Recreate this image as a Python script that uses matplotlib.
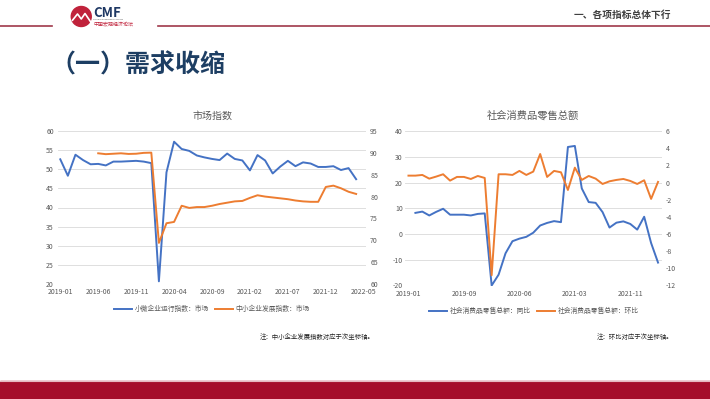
import matplotlib

matplotlib.use("Agg")
import matplotlib.pyplot as plt
import numpy as np
import pandas as pd
from matplotlib.patches import Circle, Rectangle

plt.rcParams["font.family"] = ["Noto Sans CJK SC", "DejaVu Sans"]
plt.rcParams["axes.unicode_minus"] = False

# ---- dati: indici di mercato (mensili 2019-01 .. 2022-05) ----
market_months = [p.strftime("%Y-%m") for p in pd.period_range("2019-01", "2022-05", freq="M")]
market_ticks = market_months[::5]
small_micro_index = [
    52.6, 48.3, 53.8, 52.4, 51.3, 51.4, 51.0, 52.0, 52.0, 52.1,
    52.2, 52.0, 51.6, 20.7, 49.2, 57.2, 55.3, 54.8, 53.6, 53.1,
    52.7, 52.4, 54.1, 52.7, 52.3, 49.7, 53.7, 52.3, 48.9, 50.7,
    52.2, 50.8, 51.8, 51.5, 50.6, 50.6, 50.8, 49.8, 50.3, 47.4,
]
sme_development_index = [np.nan] * 5 + [
    89.9, 89.7, 89.8, 89.9, 89.75, 89.8, 90.0, 90.05,
    69.4, 73.9, 74.2, 77.9, 77.4, 77.6, 77.6, 77.9,
    78.3, 78.6, 78.9, 79.0, 79.7, 80.3, 80.0, 79.8, 79.6, 79.4,
    79.1, 78.9, 78.8, 78.8, 82.2, 82.5, 81.9, 81.1, 80.6,
]

# ---- dati: vendite al dettaglio (gennaio accorpato a febbraio dal 2020) ----
retail_months = [
    p.strftime("%Y-%m") for p in pd.period_range("2019-01", "2022-04", freq="M")
    if not (p.month == 1 and p.year > 2019)
]
retail_ticks = retail_months[::8]
retail_yoy = [np.nan] + [
    8.2, 8.7, 7.2, 8.6, 9.8, 7.5, 7.5, 7.5, 7.2, 7.8, 8.0,
    -20.0, -15.8, -7.5, -2.8, -1.8, -1.1, 0.5, 3.3, 4.3, 5.0, 4.6,
    33.8, 34.2, 17.7, 12.4, 12.1, 8.5, 2.5, 4.4, 4.9, 3.9, 1.7, 6.7, -3.5, -11.1,
]
retail_mom = [
    0.80, 0.80, 0.88, 0.45, 0.69, 0.96, 0.22, 0.65, 0.65, 0.41, 0.76, 0.53,
    -10.8, 0.96, 0.96, 0.88, 1.35, 0.88, 1.27, 3.32, 0.65, 1.35, 1.19,
    -0.87, 1.73, 0.30, 0.76, 0.45, -0.17, 0.14, 0.30, 0.41, 0.18, -0.17, 0.26, -1.91, 0.07,
]

BLUE = "#4472C4"
ORANGE = "#ED7D31"
GRID = "#D9D9D9"
TEXT = "#595959"
W, H = 710, 399


def px_rect(x0, y0, x1, y1):
    """Converte un riquadro in pixel (origine in alto a sinistra) in coordinate figura."""
    return [x0 / W, 1 - y1 / H, (x1 - x0) / W, (y1 - y0) / H]


def style_axes(ax, ax2):
    for a in (ax, ax2):
        for s in a.spines.values():
            s.set_visible(False)
        a.tick_params(length=0, labelsize=5, colors=TEXT, pad=3)
    ax.grid(axis="y", color=GRID, linewidth=0.6)
    ax.set_axisbelow(True)


def main():
    fig = plt.figure(figsize=(W / 100, H / 100), dpi=100)

    # ---- intestazione ----
    fig.add_artist(plt.Line2D([0, 52 / W], [1 - 25.5 / H] * 2, color="#A0384A", lw=1.2))
    fig.add_artist(plt.Line2D([158 / W, 1], [1 - 25.5 / H] * 2, color="#A0384A", lw=1.2))
    logo_ax = fig.add_axes(px_rect(70, 4, 95, 29))
    logo_ax.set_xlim(0, 1)
    logo_ax.set_ylim(0, 1)
    logo_ax.axis("off")
    logo_ax.add_patch(Circle((0.45, 0.5), 0.4, color="#C0223B"))
    logo_ax.plot([0.1, 0.3, 0.45, 0.6, 0.85], [0.35, 0.6, 0.4, 0.62, 0.25], color="white", lw=1.2)
    fig.text(93 / W, 1 - 13 / H, "CMF", fontsize=9.5, fontweight="bold", color="#1F3864", va="center")
    fig.text(93 / W, 1 - 19.5 / H, "China Macroeconomy Forum", fontsize=1.6, color="#555555", va="center")
    fig.text(93 / W, 1 - 24 / H, "中国宏观经济论坛", fontsize=3.6, color="#C0223B", va="center")
    fig.text(671 / W, 1 - 15 / H, "一、各项指标总体下行", fontsize=7, fontweight="bold",
             color="#404040", ha="right", va="center")
    fig.text(50 / W, 1 - 65 / H, "（一）需求收缩", fontsize=18, fontweight="bold",
             color="#1D3E63", ha="left", va="center")

    # ---- fascia rossa in basso ----
    fig.add_artist(Rectangle((0, 0), 1, 18 / H, transform=fig.transFigure, color="#A50E2B"))
    fig.add_artist(plt.Line2D([0, 1], [18.5 / H] * 2, color="#E6B8C0", lw=0.8))

    # ---- grafico sinistro: indici di mercato ----
    ax = fig.add_axes(px_rect(58, 131, 366, 284))
    ax2 = ax.twinx()
    x = np.arange(len(small_micro_index))
    l1, = ax.plot(x, small_micro_index, color=BLUE, lw=1.4, label="小微企业运行指数：市场")
    l2, = ax2.plot(x, sme_development_index, color=ORANGE, lw=1.4, label="中小企业发展指数：市场")
    ax.set_ylim(20, 60)
    ax.set_yticks(range(20, 61, 5))
    ax2.set_ylim(60, 95)
    ax2.set_yticks(range(60, 96, 5))
    ax.set_xlim(-0.3, len(market_months) - 0.7)
    ax.set_xticks(range(0, len(market_months), 5))
    ax.set_xticklabels(market_ticks)
    style_axes(ax, ax2)
    ax.set_title("市场指数", fontsize=7.2, color=TEXT, pad=9)
    fig.legend(handles=[l1, l2], loc="center", bbox_to_anchor=(212 / W, 1 - 309 / H),
               ncol=2, frameon=False, fontsize=4.9, handlelength=2.6, columnspacing=1.0,
               handletextpad=0.4, labelcolor=TEXT)
    fig.text(375 / W, 1 - 337 / H, "注：中小企业发展指数对应于次坐标轴。", fontsize=4.6,
             ha="right", va="center", color="#222222")

    # ---- grafico destro: vendite al dettaglio ----
    bx = fig.add_axes(px_rect(405, 131, 661.5, 285.5))
    bx2 = bx.twinx()
    xr = np.arange(len(retail_months))
    r1, = bx.plot(xr, retail_yoy, color=BLUE, lw=1.4, label="社会消费品零售总额：同比")
    r2, = bx2.plot(xr, retail_mom, color=ORANGE, lw=1.4, label="社会消费品零售总额：环比")
    bx.set_ylim(-20, 40)
    bx.set_yticks(range(-20, 41, 10))
    bx2.set_ylim(-12, 6)
    bx2.set_yticks(range(-12, 7, 2))
    bx.set_xlim(-0.5, len(retail_months) - 0.5)
    bx.set_xticks(range(0, len(retail_months), 8))
    bx.set_xticklabels(retail_ticks)
    style_axes(bx, bx2)
    bx.tick_params(axis="y", pad=1.5)
    bx.set_title("社会消费品零售总额", fontsize=7.4, color=TEXT, pad=9)
    fig.legend(handles=[r1, r2], loc="center", bbox_to_anchor=(534 / W, 1 - 311 / H),
               ncol=2, frameon=False, fontsize=4.9, handlelength=2.6, columnspacing=1.0,
               handletextpad=0.4, labelcolor=TEXT)
    fig.text(673 / W, 1 - 337 / H, "注：环比对应于次坐标轴。", fontsize=4.6,
             ha="right", va="center", color="#222222")

    fig.savefig("out.png", dpi=100)


if __name__ == "__main__":
    main()
